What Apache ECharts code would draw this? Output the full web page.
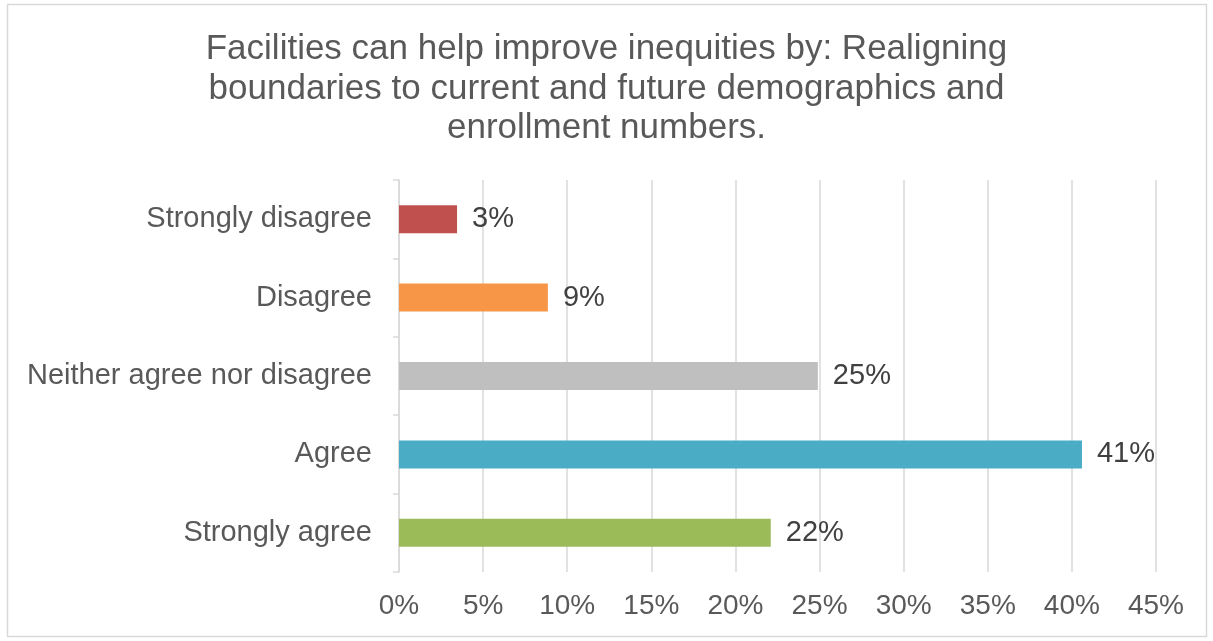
<!DOCTYPE html>
<html>
<head>
<meta charset="utf-8">
<title>Facilities survey</title>
<script src="https://cdn.jsdelivr.net/npm/echarts@6/dist/echarts.min.js"></script>
<style>
  html, body { margin: 0; padding: 0; background: #ffffff; }
  #chart { width: 1213px; height: 641px; }
</style>
</head>
<body>
<div id="chart"></div>
<script>
// 分类（自上而下）
const categories = ['Strongly disagree', 'Disagree', 'Neither agree nor disagree', 'Agree', 'Strongly agree']
// 百分比数值
const values = [3.45, 8.85, 24.9, 40.6, 22.1]
const barColors = ['#C0504D', '#F79646', '#BFBFBF', '#4BACC6', '#9BBB59']
const xTicks = [0, 5, 10, 15, 20, 25, 30, 35, 40, 45]

const chart = echarts.init(document.getElementById('chart'))

chart.setOption({
  animation: false,
  textStyle: {
    fontFamily: '"Liberation Sans", Arial, sans-serif',
  },
  graphic: [
    {
      type: 'rect',
      shape: { x: 7.5, y: 4.5, width: 1199, height: 632 },
      style: { fill: 'none', stroke: '#D9D9D9', lineWidth: 1.5 },
      silent: true,
    },
  ],
  title: {
    text: 'Facilities can help improve inequities by: Realigning\nboundaries to current and future demographics and\nenrollment numbers.',
    left: 'center',
    top: 25,
    textStyle: {
      color: '#595959',
      fontSize: 35,
      fontWeight: 'normal',
      lineHeight: 39.5,
    },
  },
  grid: {
    left: 399,
    right: 57,
    top: 180,
    bottom: 69,
  },
  xAxis: {
    type: 'value',
    min: xTicks[0],
    max: xTicks[xTicks.length - 1],
    interval: 5,
    axisLine: { show: false },
    axisTick: { show: false },
    splitLine: {
      show: true,
      lineStyle: { color: '#D9D9D9', width: 1.5 },
    },
    axisLabel: {
      color: '#595959',
      fontSize: 28,
      margin: 20,
      formatter: (v) => v + '%',
    },
  },
  yAxis: {
    type: 'category',
    data: categories,
    inverse: true,
    axisLine: {
      show: true,
      lineStyle: { color: '#D9D9D9', width: 1.5 },
    },
    axisTick: {
      show: true,
      length: 6,
      lineStyle: { color: '#D9D9D9', width: 1.5 },
    },
    axisLabel: {
      color: '#595959',
      fontSize: 29,
      margin: 27,
    },
  },
  series: [
    {
      type: 'bar',
      barWidth: 28,
      data: values.map((v, i) => ({
        value: v,
        itemStyle: { color: barColors[i] },
      })),
      label: {
        show: true,
        position: 'right',
        distance: 15,
        color: '#404040',
        fontSize: 29,
        formatter: (p) => Math.round(p.value) + '%',
      },
    },
  ],
})
</script>
</body>
</html>
